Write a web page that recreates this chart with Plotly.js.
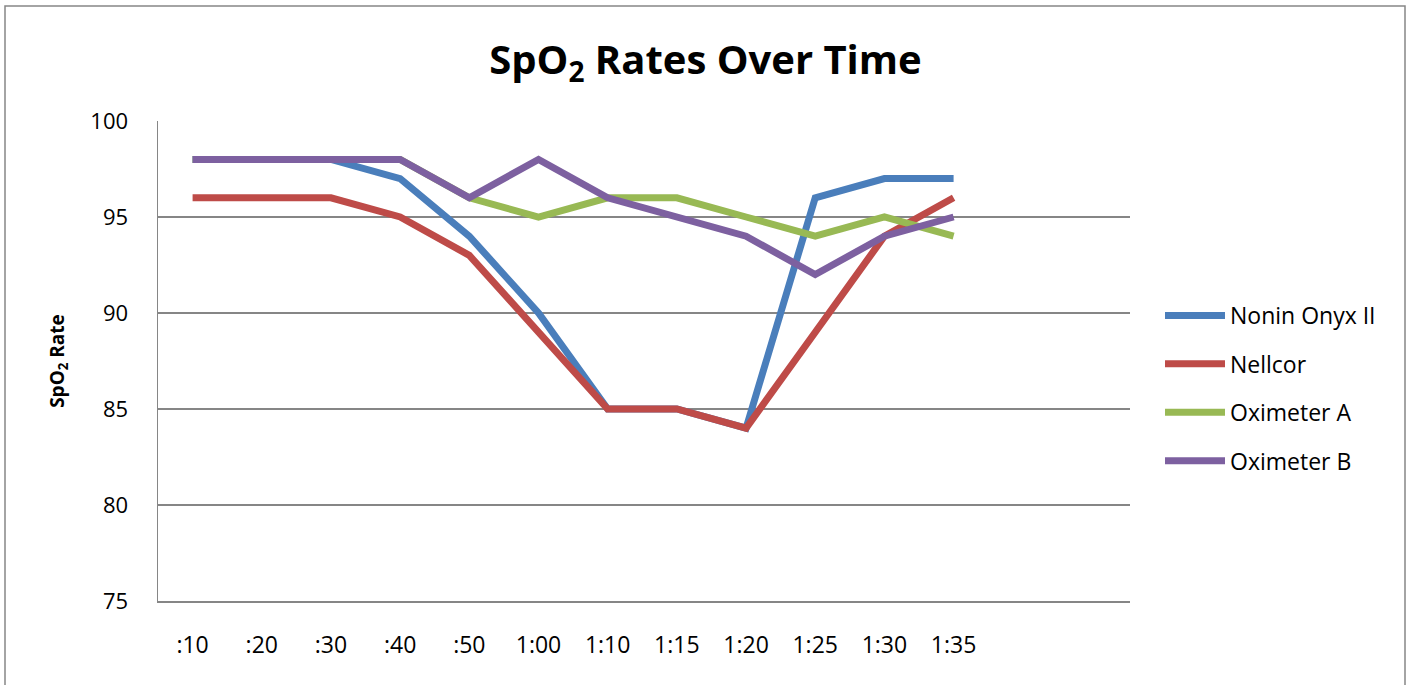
<!DOCTYPE html>
<html>
<head>
<meta charset="utf-8">
<script src="https://cdn.plot.ly/plotly-3.0.1.min.js"></script>
<style>html,body{margin:0;padding:0;background:#fff;}#chart{width:1411px;height:685px;}</style>
</head>
<body>
<div id="chart"></div>
<script>
const categories = [":10", ":20", ":30", ":40", ":50", "1:00", "1:10", "1:15", "1:20", "1:25", "1:30", "1:35"];
const noninOnyx = [98, 98, 98, 97, 94, 90, 85, 85, 84, 96, 97, 97];
const nellcor   = [96, 96, 96, 95, 93, 89, 85, 85, 84, 89, 94, 96];
const oximeterA = [98, 98, 98, 98, 96, 95, 96, 96, 95, 94, 95, 94];
const oximeterB = [98, 98, 98, 98, 96, 98, 96, 95, 94, 92, 94, 95];
const seriesNames = ["Nonin Onyx II", "Nellcor", "Oximeter A", "Oximeter B"];
const seriesColors = ["#4A7EBB", "#BE4B48", "#98B954", "#7D60A0"];
const yTicks = [75, 80, 85, 90, 95, 100];

const FONT = "Open Sans, Liberation Sans, sans-serif";
const allSeries = [noninOnyx, nellcor, oximeterA, oximeterB];
const traces = allSeries.map((vals, i) => ({
  type: "scatter",
  mode: "lines",
  x: categories,
  y: vals,
  name: seriesNames[i],
  legendgroup: "g" + i,
  line: {color: seriesColors[i], width: 7}
}));

const layout = {
  width: 1411,
  height: 685,
  margin: {l: 158, r: 281, t: 121, b: 84},
  paper_bgcolor: "#ffffff",
  plot_bgcolor: "#ffffff",
  showlegend: true,
  title: {
    text: "<b>SpO<sub>2</sub> Rates Over Time</b>",
    font: {family: FONT, size: 40, color: "#000"},
    xref: "container", x: 0.5, xanchor: "center",
    yref: "container", y: 1 - 60/685, yanchor: "middle"
  },
  xaxis: {
    type: "category",
    range: [-0.5, 13.55],
    showgrid: false,
    zeroline: false,
    showline: true,
    linecolor: "#868686",
    linewidth: 1.5,
    ticks: "",
    ticklabelstandoff: 23,
    tickfont: {family: FONT, size: 23, color: "#000"}
  },
  yaxis: {
    range: [75, 100],
    tickvals: yTicks,
    showgrid: true,
    gridcolor: "#868686",
    gridwidth: 1.5,
    zeroline: false,
    showline: true,
    linecolor: "#868686",
    linewidth: 1.5,
    ticks: "",
    ticklabelstandoff: 24,
    tickfont: {family: FONT, size: 22, color: "#000"},
    title: {
      text: "<b>SpO<sub>2</sub> Rate</b>",
      font: {family: FONT, size: 19, color: "#000"},
      standoff: 20
    }
  },
  legend: {
    x: (1160 - 158) / 972,
    xanchor: "left",
    y: (601 - 294) / 480,
    yanchor: "top",
    tracegroupgap: 15.5,
    font: {family: FONT, size: 23, color: "#000"},
    bgcolor: "rgba(0,0,0,0)",
    itemwidth: 60
  },
  shapes: [{
    type: "rect",
    xref: "paper", yref: "paper",
    x0: (5 - 158) / 972, x1: (1405 - 158) / 972,
    y0: (601 - 720) / 480, y1: (601 - 6) / 480,
    line: {color: "#868686", width: 1.5},
    fillcolor: "rgba(0,0,0,0)",
    layer: "below"
  }]
};

Plotly.newPlot("chart", traces, layout, {displayModeBar: false, staticPlot: true});
</script>
</body>
</html>
